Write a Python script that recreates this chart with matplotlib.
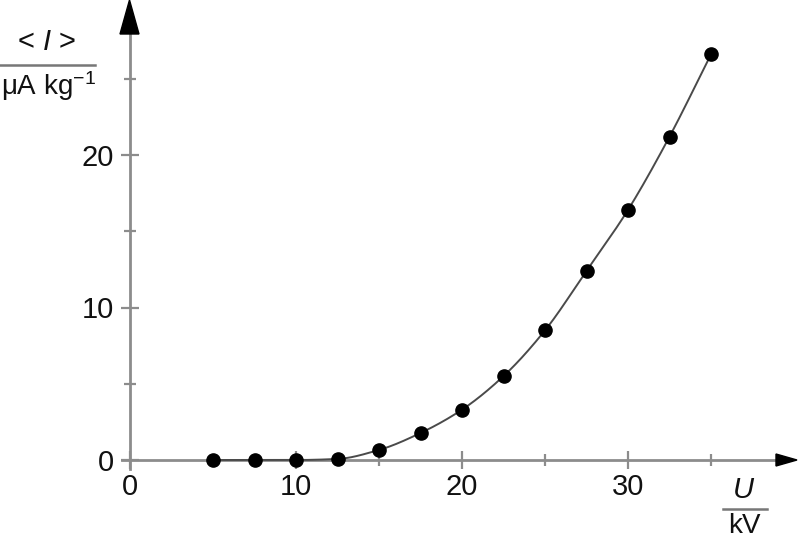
import numpy as np
import matplotlib
matplotlib.use("Agg")
import matplotlib.pyplot as plt
from matplotlib.patches import Polygon
from matplotlib.lines import Line2D

# ---- data ----
voltage_kV = [5, 7.5, 10, 12.5, 15, 17.5, 20, 22.5, 25, 27.5, 30, 32.5, 35]
current_uA_per_kg = [0.0, 0.0, 0.0, 0.07, 0.66, 1.77, 3.3, 5.5, 8.5, 12.4, 16.4, 21.2, 26.6]
x_major = [0, 10, 20, 30]
x_minor = [5, 15, 25, 35]
y_major = [0, 10, 20]
y_minor = [5, 15, 25]

plt.rcParams['font.family'] = ['Liberation Sans', 'DejaVu Sans']
plt.rcParams['mathtext.fontset'] = 'custom'
plt.rcParams['mathtext.rm'] = 'Liberation Sans'
plt.rcParams['mathtext.it'] = 'Liberation Sans:italic'

W, H = 800, 542
fig = plt.figure(figsize=(W / 100, H / 100), dpi=100)
ax = fig.add_axes([0, 0, 1, 1])

# pixel mapping of the original
x0px, xs = 130.0, 16.6
y0px, ys = 460.0, 15.25
ax.set_xlim(-x0px / xs, (W - x0px) / xs)
ax.set_ylim((y0px - H) / ys, y0px / ys)
ax.patch.set_alpha(0)

axis_col = '#8c8c8c'
for s in ['top', 'right']:
    ax.spines[s].set_visible(False)
ax.spines['left'].set_position(('data', 0))
ax.spines['bottom'].set_position(('data', 0))
ax.spines['left'].set_bounds(-0.6, (y0px - 28) / ys)
ax.spines['bottom'].set_bounds(-0.5, (778 - x0px) / xs)
for s in ['left', 'bottom']:
    ax.spines[s].set_color(axis_col)
    ax.spines[s].set_linewidth(2.0)

tc = '#111111'
ax.set_xticks(x_major)
ax.set_xticks(x_minor, minor=True)
ax.set_yticks(y_major)
ax.set_yticks(y_minor, minor=True)
ax.set_xticklabels([str(v) for v in x_major])
ax.set_yticklabels([str(v) for v in y_major])
ax.tick_params(which='major', direction='inout', length=13, width=1.6, color=axis_col,
               labelsize=21, labelcolor=tc)
ax.tick_params(which='minor', direction='inout', length=8, width=1.6, color=axis_col)
ax.tick_params(axis='x', which='major', pad=3)
ax.tick_params(axis='y', which='major', pad=5)

# arrowheads (axes fraction coordinates)
def fx(px):
    return px / W

def fy(py):
    return 1 - py / H

ax.add_patch(Polygon([(fx(120), fy(34)), (fx(139), fy(34)), (fx(129.5), fy(0))],
                     closed=True, color='black', transform=ax.transAxes, zorder=5))
ax.add_patch(Polygon([(fx(776), fy(454)), (fx(776), fy(466)), (fx(797), fy(460))],
                     closed=True, color='black', transform=ax.transAxes, zorder=5))

# smooth monotone curve through the data (PCHIP)
x = np.asarray(voltage_kV, float)
y = np.asarray(current_uA_per_kg, float)
h = np.diff(x)
delta = np.diff(y) / h
d = np.zeros_like(x)
d[0], d[-1] = delta[0], delta[-1]
for k in range(1, len(x) - 1):
    if delta[k - 1] * delta[k] > 0:
        w1 = 2 * h[k] + h[k - 1]
        w2 = h[k] + 2 * h[k - 1]
        d[k] = (w1 + w2) / (w1 / delta[k - 1] + w2 / delta[k])
xs_fine, ys_fine = [], []
for k in range(len(x) - 1):
    t = np.linspace(0, 1, 40)
    h00 = 2 * t**3 - 3 * t**2 + 1
    h10 = t**3 - 2 * t**2 + t
    h01 = -2 * t**3 + 3 * t**2
    h11 = t**3 - t**2
    xs_fine.append(x[k] + t * h[k])
    ys_fine.append(h00 * y[k] + h10 * h[k] * d[k] + h01 * y[k + 1] + h11 * h[k] * d[k + 1])
ax.plot(np.concatenate(xs_fine), np.concatenate(ys_fine), color='#4a4a4a', lw=1.4, zorder=3)
ax.plot(voltage_kV, current_uA_per_kg, 'o', color='black', markersize=9.5, zorder=4)

# axis labels as fractions
fig.text(fx(46), fy(42), r'< $I$ >', ha='center', va='center', fontsize=21, color=tc)
fig.add_artist(Line2D([fx(0), fx(95)], [fy(65), fy(65)], color='#777777', lw=1.8))
fig.text(fx(48), fy(86), r'μA kg$^{-1}$', ha='center', va='center', fontsize=20, color=tc)

fig.text(fx(744), fy(490), r'$U$', ha='center', va='center', fontsize=21, color=tc)
fig.add_artist(Line2D([fx(723), fx(767)], [fy(509), fy(509)], color='#777777', lw=1.8))
fig.text(fx(744), fy(526), 'kV', ha='center', va='center', fontsize=20, color=tc)

fig.savefig('out.png', dpi=100)
